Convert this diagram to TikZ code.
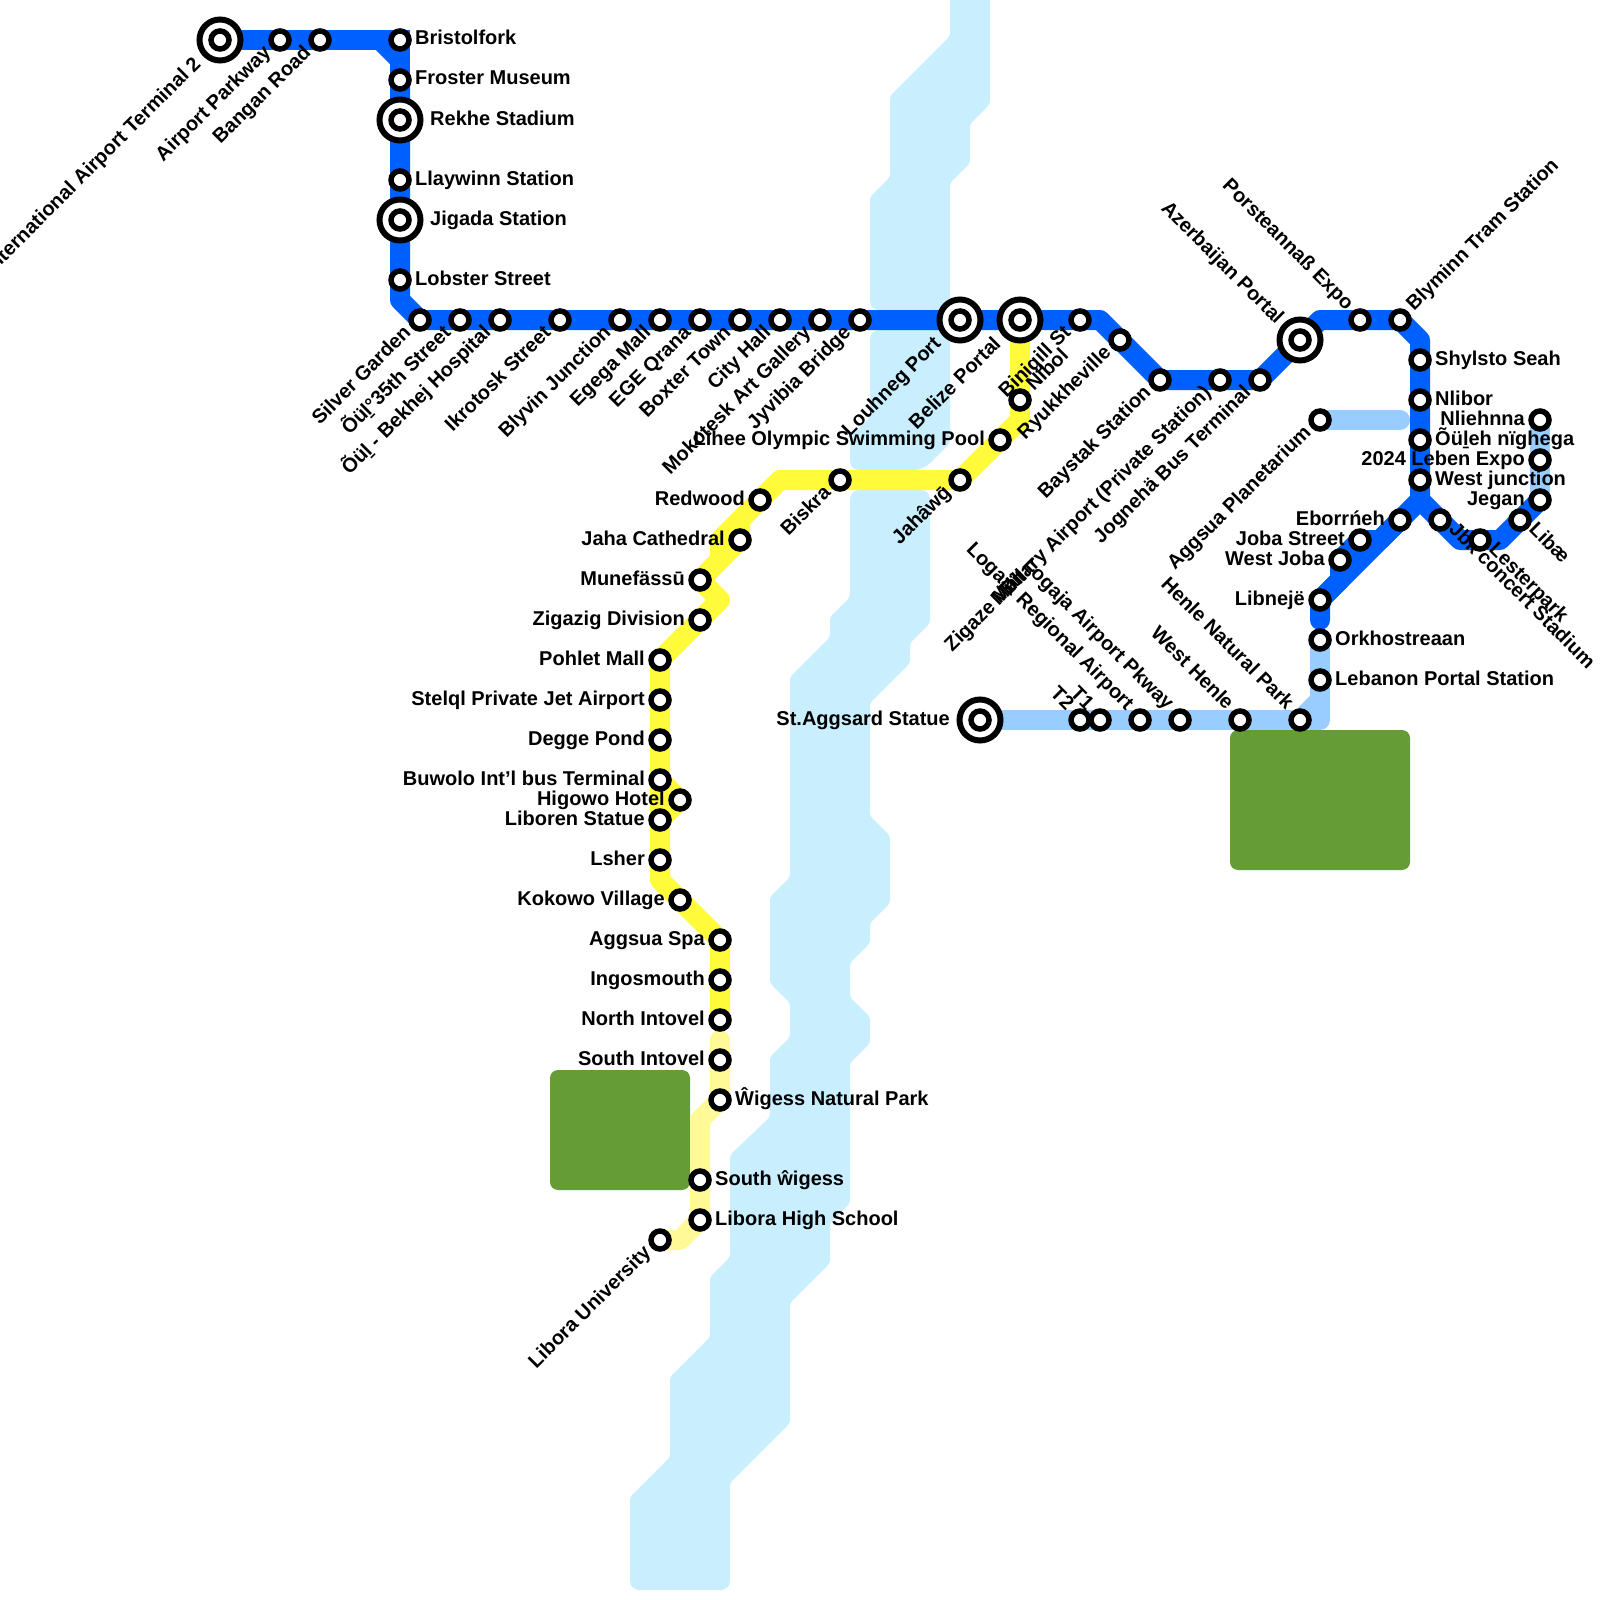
\documentclass[tikz,border=0pt]{standalone}
\usepackage{fontspec}
\setmainfont{Liberation Sans}
\definecolor{cblue}{HTML}{0060FF}
\definecolor{clight}{HTML}{99CCFF}
\definecolor{cyellow}{HTML}{FFFB3B}
\definecolor{cpale}{HTML}{FFF998}
\definecolor{criver}{HTML}{C9EFFF}
\definecolor{cpark}{HTML}{669C35}
\pgfdeclarelayer{riverlayer}
\pgfdeclarelayer{linelayer}
\pgfsetlayers{riverlayer,linelayer,main}
\tikzset{
  stn/.style={circle,draw=black,fill=white,line width=5.5pt,minimum size=18pt,inner sep=0pt},
  ring/.style={circle,draw=black,fill=white,line width=6pt,minimum size=41pt,inner sep=0pt},
  lbl/.style={font=\fontsize{20}{22}\selectfont\bfseries,inner sep=0pt,text=black},
  lr/.style={lbl,anchor=base west,xshift=15pt,yshift=-5pt},
  ll/.style={lbl,anchor=base east,xshift=-15pt,yshift=-5pt},
  ilr/.style={lbl,anchor=base west,xshift=30pt,yshift=-5pt},
  ill/.style={lbl,anchor=base east,xshift=-30pt,yshift=-5pt},
  dl/.style={lbl,anchor=base east,xshift=-8pt,yshift=-13.5pt,rotate=45},
  ul/.style={lbl,anchor=base east,xshift=-14pt,yshift=9pt,rotate=-45},
  ur/.style={lbl,anchor=base west,xshift=14pt,yshift=8pt,rotate=45},
  dr/.style={lbl,anchor=base west,xshift=8pt,yshift=-10.5pt,rotate=-45},
  idl/.style={lbl,anchor=base east,xshift=-18pt,yshift=-25pt,rotate=45},
  iul/.style={lbl,anchor=base east,xshift=-24pt,yshift=15pt,rotate=-45},
  lineb/.style={draw=cblue,line width=20pt,line join=round},
  linel/.style={draw=clight,line width=20pt,line join=round},
  liney/.style={draw=cyellow,line width=20pt,line join=round},
  linep/.style={draw=cpale,line width=20pt,line join=round},
  riverfill/.style={fill=criver,rounded corners=3pt},
  parkfill/.style={fill=cpark,rounded corners=8pt},
}
\newcommand{\stlab}[5]{\node[stn] (#1) at (#2,#3) {};\node[#4] (#1-l) at (#1.center) {#5};}
\newcommand{\ichg}[5]{\node[ring] (#1-o) at (#2,#3) {};\node[stn] (#1) at (#2,#3) {};\node[#4] (#1-l) at (#1.center) {#5};}
\begin{document}
\begin{tikzpicture}[x=1pt,y=-1pt]
\useasboundingbox (0,0) rectangle (1600,1600);
% --- blue line
\ichg{a1}{220}{40}{idl}{International Airport Terminal 2}
\stlab{a2}{280}{40}{dl}{Airport Parkway}
\stlab{a3}{320}{40}{dl}{Bangan Road}
\stlab{a4}{400}{40}{lr}{Bristolfork}
\stlab{a5}{400}{80}{lr}{Froster Museum}
\ichg{a6}{400}{120}{ilr}{Rekhe Stadium}
\stlab{a7}{400}{180}{lr}{Llaywinn Station}
\ichg{a8}{400}{220}{ilr}{Jigada Station}
\stlab{a9}{400}{280}{lr}{Lobster Street}
\stlab{b1}{420}{320}{dl}{Silver Garden}
\stlab{b2}{460}{320}{dl}{Õüḻ°35th Street}
\stlab{b3}{500}{320}{dl}{Õüḻ - Bekhej Hospital}
\stlab{b4}{560}{320}{dl}{Ikrotosk Street}
\stlab{b5}{620}{320}{dl}{Blyvin Junction}
\stlab{b6}{660}{320}{dl}{Egega Mall}
\stlab{b7}{700}{320}{dl}{EGE Qrana}
\stlab{b8}{740}{320}{dl}{Boxter Town}
\stlab{b9}{780}{320}{dl}{City Hall}
\stlab{c1}{820}{320}{dl}{Mokotesk Art Gallery}
\stlab{c2}{860}{320}{dl}{Jyvibia Bridge}
\ichg{c3}{960}{320}{idl}{Louhneg Port}
\ichg{c4}{1020}{320}{idl}{Belize Portal}
\stlab{c5}{1080}{320}{dl}{Binigill St}
\stlab{c6}{1120}{340}{dl}{Ryukkheville}
\stlab{c7}{1160}{380}{dl}{Baystak Station}
\stlab{c8}{1220}{380}{dl}{Military Airport (Private Station)}
\stlab{c9}{1260}{380}{dl}{Jognehä Bus Terminal}
\ichg{d1}{1300}{340}{iul}{Azerbaijan Portal}
\stlab{d2}{1360}{320}{ul}{Porsteannaß Expo}
\stlab{d3}{1400}{320}{ur}{Blyminn Tram Station}
\stlab{d4}{1420}{360}{lr}{Shylsto Seah}
\stlab{d5}{1420}{400}{lr}{Nlibor}
\stlab{d6}{1420}{440}{lr}{Õüḻeh nïghega}
\stlab{d7}{1420}{480}{lr}{West junction}
\stlab{e1}{1400}{520}{ll}{Eborrńeh}
\stlab{e2}{1360}{540}{ll}{Joba Street}
\stlab{e3}{1340}{560}{ll}{West Joba}
\stlab{e4}{1320}{600}{ll}{Libnejë}
\stlab{f1}{1440}{520}{dr}{Jbk concert Stadium}
\stlab{f2}{1480}{540}{dr}{Lesterpark}
\stlab{f3}{1520}{520}{dr}{Libæ}
\stlab{f4}{1540}{500}{ll}{Jegan}
\stlab{f5}{1540}{460}{ll}{2024 Leben Expo}
\stlab{f6}{1540}{420}{ll}{Nliehnna}
\stlab{g0}{1320}{420}{dl}{Aggsua Planetarium}
% --- light blue line
\ichg{h1}{980}{720}{ill}{St.Aggsard Statue}
\stlab{h2}{1080}{720}{ul}{T2}
\stlab{h3}{1100}{720}{ul}{T1}
\stlab{h4}{1140}{720}{ul}{Logaja Regional Airport}
\stlab{h5}{1180}{720}{ul}{Logaja Airport Pkway}
\stlab{h6}{1240}{720}{ul}{West Henle}
\stlab{h7}{1300}{720}{ul}{Henle Natural Park}
\stlab{h8}{1320}{680}{lr}{Lebanon Portal Station}
\stlab{h9}{1320}{640}{lr}{Orkhostreaan}
% --- yellow line
\stlab{y1}{1020}{400}{ur}{Nibol}
\stlab{y2}{1000}{440}{ll}{Lihee Olympic Swimming Pool}
\stlab{y3}{960}{480}{dl}{Jahâwḡ}
\stlab{y4}{840}{480}{dl}{Biskra}
\stlab{y5}{760}{500}{ll}{Redwood}
\stlab{y6}{740}{540}{ll}{Jaha Cathedral}
\stlab{y7}{700}{580}{ll}{Munefässū}
\stlab{y8}{700}{620}{ll}{Zigazig Division}
\stlab{y9}{660}{660}{ll}{Pohlet Mall}
\stlab{z1}{660}{700}{ll}{Stelql Private Jet Airport}
\stlab{z2}{660}{740}{ll}{Degge Pond}
\stlab{z3}{660}{780}{ll}{Buwolo Int’l bus Terminal}
\stlab{z4}{680}{800}{ll}{Higowo Hotel}
\stlab{z5}{660}{820}{ll}{Liboren Statue}
\stlab{z6}{660}{860}{ll}{Lsher}
\stlab{z7}{680}{900}{ll}{Kokowo Village}
\stlab{z8}{720}{940}{ll}{Aggsua Spa}
\stlab{z9}{720}{980}{ll}{Ingosmouth}
\stlab{w1}{720}{1020}{ll}{North Intovel}
\stlab{w2}{720}{1060}{ll}{South Intovel}
\stlab{w3}{720}{1100}{lr}{Ŵigess Natural Park}
\stlab{w4}{700}{1180}{lr}{South ŵigess}
\stlab{w5}{700}{1220}{lr}{Libora High School}
\stlab{w6}{660}{1240}{dl}{Libora University}
\node[lbl,anchor=base east,rotate=45] (zm) at (1028,577) {Zigaze Mall};
\begin{pgfonlayer}{riverlayer}
\path[riverfill] (950,-5) -- (950,36) -- (890,96) -- (890,177) -- (870,197) [rounded corners=9pt] -- (870,310) -- (950,310) [rounded corners=3pt] -- (950,183) -- (970,163) -- (970,124) -- (990,104) -- (990,-5) -- cycle;
\path[riverfill] (950,380) [rounded corners=9pt] -- (950,330) -- (870,330) [rounded corners=3pt] -- (870,417) -- (850,437) [rounded corners=9pt] -- (850,470) -- (923,470) [rounded corners=3pt] -- (950,443) -- cycle;
\path[riverfill] (890,490) [rounded corners=9pt] -- (930,490) [rounded corners=3pt] -- (930,623) -- (910,643) -- (910,663) -- (870,703) -- (870,816) -- (890,836) -- (890,903) -- (870,923) -- (870,943) -- (850,963) -- (850,997) -- (870,1017) -- (870,1043) -- (850,1063) -- (850,1203) -- (830,1223) -- (830,1263) -- (790,1303) -- (790,1423) -- (730,1483) [rounded corners=9pt] -- (730,1590) -- (630,1590) [rounded corners=3pt] -- (630,1497) -- (670,1457) -- (670,1377) -- (710,1337) -- (710,1277) -- (730,1257) -- (730,1155) -- (770,1117) -- (770,1057) -- (790,1037) -- (790,1003) -- (770,983) -- (770,897) -- (790,877) -- (790,677) -- (830,637) -- (830,617) -- (850,597) [rounded corners=9pt] -- (850,490) -- cycle;
\path[parkfill] (1230,730) rectangle (1410,870);
\path[parkfill] (550,1070) rectangle (690,1190);
\end{pgfonlayer}
\begin{pgfonlayer}{linelayer}
% pale yellow
\draw[linep,line cap=round] (w1.center) ++(0,20) -- (w2.center) -- (w3.center) -- (700,1120) -- (w4.center) -- (w5.center) -- (680,1240) -- (w6.center);
% yellow
\draw[liney] (c4.center) -- (y1.center) -- (1020,420) -- (y2.center) -- (y3.center) -- (y4.center) -- (780,480) -- (y5.center) -- (740,520) -- (y6.center) -- (y7.center) -- (720,600) -- (y8.center) -- (y9.center) -- (z1.center) -- (z2.center) -- (z3.center) -- (z5.center) -- (z6.center) -- (660,880) -- (z7.center) -- (z8.center) -- (z9.center) -- (w1.center);
\draw[liney] (y5.center) -- (720,540) -- (720,560) -- (y7.center);
\draw[liney] (z3.center) -- (z4.center) -- (z5.center);
% light blue
\draw[linel] (h1.center) -- (h2.center) -- (h3.center) -- (h4.center) -- (h5.center) -- (h6.center) -- (h7.center) -- (1320,720) -- (h8.center) -- (h9.center);
\draw[linel] (h7.center) -- (1320,700);
\draw[linel,line cap=round] (g0.center) -- (1400,420);
\draw[linel] (f6.center) -- (f5.center) -- (f4.center);
% blue
\draw[lineb,line join=miter] (a1.center) -- (a2.center) -- (a3.center) -- (a4.center) -- (a5.center);
\draw[lineb] (380,40) -- (400,60);
\draw[lineb] (a5.center) -- (a6.center) -- (a7.center) -- (a8.center) -- (a9.center) -- (400,300) -- (b1.center) -- (b2.center) -- (b3.center) -- (b4.center) -- (b5.center) -- (b6.center) -- (b7.center) -- (b8.center) -- (b9.center) -- (c1.center) -- (c2.center) -- (c3.center) -- (c4.center) -- (c5.center) -- (1100,320) -- (c6.center) -- (c7.center) -- (c8.center) -- (c9.center) -- (d1.center) -- (1320,320) -- (d2.center) -- (d3.center) -- (1420,340) -- (d4.center) -- (d5.center) -- (d6.center) -- (d7.center) -- (1420,500) -- (f1.center) -- (1460,540) -- (f2.center) -- (1500,540) -- (f3.center) -- (f4.center);
\draw[lineb,line cap=round] (1420,500) -- (e4.center) -- (1320,620);
\draw[lineb] (e1.center) -- (1380,540) -- (e2.center) -- (e3.center) -- (1340,580) -- (e4.center);
\end{pgfonlayer}
\end{tikzpicture}
\end{document}
